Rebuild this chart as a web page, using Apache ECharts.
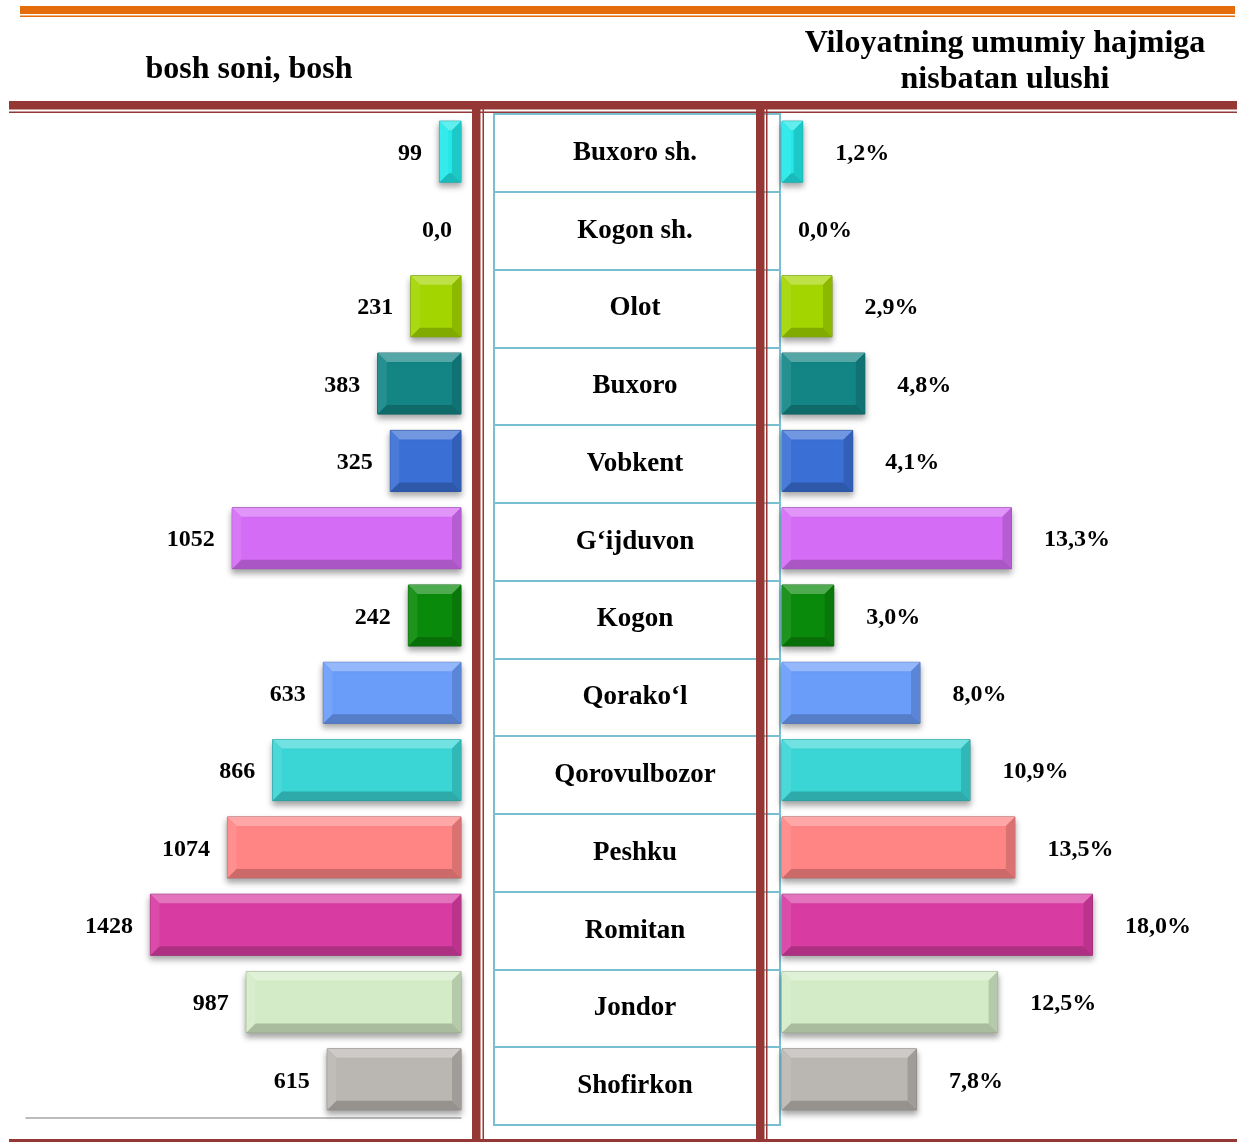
<!DOCTYPE html>
<html>
<head>
<meta charset="utf-8">
<title>Bosh soni</title>
<script src="https://cdn.jsdelivr.net/npm/echarts@6/dist/echarts.min.js"></script>
<style>
  html, body { margin: 0; padding: 0; background: #fff; }
  #chart { width: 1237px; height: 1142px; }
</style>
</head>
<body>
<div id="chart"></div>
<script>
// tumanlar (kategoriyalar)
const districts = ['Buxoro sh.', 'Kogon sh.', 'Olot', 'Buxoro', 'Vobkent', 'G‘ijduvon', 'Kogon',
  'Qorako‘l', 'Qorovulbozor', 'Peshku', 'Romitan', 'Jondor', 'Shofirkon'];
// bosh soni
const headCounts = [99, 0, 231, 383, 325, 1052, 242, 633, 866, 1074, 1428, 987, 615];
// viloyat umumiy hajmidagi ulushi, %
const shares = [1.2, 0.0, 2.9, 4.8, 4.1, 13.3, 3.0, 8.0, 10.9, 13.5, 18.0, 12.5, 7.8];

const barColors = ['#22E8E8', '#999999', '#A3D600', '#138585', '#3A6FD6', '#D56CF5', '#0A8A0A',
  '#6A9CFA', '#3AD5D5', '#FF8585', '#D83CA3', '#D3EBC6', '#BAB6B2'];

const SERIF = '"Liberation Serif", "Times New Roman", serif';
const RED = '#953735';
const ORANGE = '#E46C0A';
const CYAN = '#78BFD2';

function mix(hex, target, t) {
  const a = parseInt(hex.slice(1), 16), b = parseInt(target.slice(1), 16);
  const ch = s => {
    const x = (a >> s) & 255, y = (b >> s) & 255;
    return Math.round(x + (y - x) * t);
  };
  return 'rgb(' + ch(16) + ',' + ch(8) + ',' + ch(0) + ')';
}

// bo'rtma (bevel) ustunlar
function bevelBar(side, fmt, dist) {
  return function (params, api) {
    const v = api.value(0);
    const cat = api.value(1);
    const p0 = api.coord([0, cat]);
    const p1 = api.coord([v, cat]);
    const h = 61;
    const x0 = Math.min(p0[0], p1[0]);
    const x1 = Math.max(p0[0], p1[0]);
    const y0 = p0[1] - h / 2;
    const y1 = p0[1] + h / 2;
    const w = x1 - x0;
    const base = barColors[params.dataIndex];
    const label = {
      type: 'text',
      style: { text: fmt(v), fill: '#000', fontSize: 24, fontWeight: 'bold', fontFamily: SERIF }
    };
    if (v === 0) {
      return {
        type: 'rect',
        shape: { x: x0, y: y0, width: 0, height: h },
        style: { fill: 'none' },
        textContent: label,
        textConfig: { position: side, distance: side === 'left' ? 9 : 16, offset: [0, 2] }
      };
    }
    const b = Math.min(9, w / 2, h / 2);
    return {
      type: 'group',
      children: [
        {
          type: 'rect',
          shape: { x: x0, y: y0, width: w, height: h },
          style: {
            fill: base,
            stroke: mix(base, '#000000', 0.3),
            lineWidth: 1,
            shadowBlur: 6,
            shadowOffsetY: 4,
            shadowColor: 'rgba(0,0,0,0.35)'
          },
          textContent: label,
          textConfig: { position: side, distance: dist, offset: [0, 2] }
        },
        {
          type: 'polygon',
          shape: { points: [[x0, y0], [x1, y0], [x1 - b, y0 + b], [x0 + b, y0 + b]] },
          style: { fill: mix(base, '#FFFFFF', 0.28) }
        },
        {
          type: 'polygon',
          shape: { points: [[x0, y1], [x1, y1], [x1 - b, y1 - b], [x0 + b, y1 - b]] },
          style: { fill: mix(base, '#000000', 0.2) }
        },
        {
          type: 'polygon',
          shape: { points: [[x0, y0], [x0 + b, y0 + b], [x0 + b, y1 - b], [x0, y1]] },
          style: { fill: mix(base, '#FFFFFF', 0.08) }
        },
        {
          type: 'polygon',
          shape: { points: [[x1, y0], [x1 - b, y0 + b], [x1 - b, y1 - b], [x1, y1]] },
          style: { fill: mix(base, '#000000', 0.14) }
        }
      ]
    };
  };
}

const myChart = echarts.init(document.getElementById('chart'), null, { renderer: 'canvas' });

const option = {
  backgroundColor: '#fff',
  animation: false,
  grid: [
    { left: 26, right: 776, top: 113, bottom: 24 },   // bosh soni
    { left: 782, right: 110, top: 113, bottom: 24 },  // ulush
    { left: 494, right: 457, top: 114, bottom: 17, show: true, borderColor: CYAN, borderWidth: 2 } // jadval
  ],
  xAxis: [
    {
      gridIndex: 0, type: 'value', inverse: true, min: 0, max: 2000,
      axisLine: { show: true, lineStyle: { color: '#A6A6A6', width: 1.5 } },
      axisTick: { show: false }, axisLabel: { show: false }, splitLine: { show: false }
    },
    { gridIndex: 1, type: 'value', min: 0, max: 20, show: false },
    { gridIndex: 2, type: 'value', min: 0, max: 1, show: false }
  ],
  yAxis: [
    { gridIndex: 0, type: 'category', inverse: true, data: districts, show: false },
    { gridIndex: 1, type: 'category', inverse: true, data: districts, show: false },
    {
      gridIndex: 2, type: 'category', inverse: true, data: districts,
      axisLine: { show: true, lineStyle: { color: CYAN, width: 2 } },
      axisTick: { show: false },
      splitLine: { show: true, lineStyle: { color: CYAN, width: 2 } },
      axisLabel: {
        margin: -141, align: 'center', color: '#000', padding: [12, 0, 0, 0],
        fontSize: 27, fontWeight: 'bold', fontFamily: SERIF
      }
    }
  ],
  series: [
    {
      name: 'bosh soni',
      type: 'custom',
      xAxisIndex: 0, yAxisIndex: 0,
      renderItem: bevelBar('left', v => (v === 0 ? '0,0' : String(v)), 17),
      encode: { x: 0, y: 1 },
      data: headCounts.map((v, i) => [v, i])
    },
    {
      name: 'ulushi',
      type: 'custom',
      xAxisIndex: 1, yAxisIndex: 1,
      renderItem: bevelBar('right', v => v.toFixed(1).replace('.', ',') + '%', 32),
      encode: { x: 0, y: 1 },
      data: shares.map((v, i) => [v, i])
    }
  ],
  graphic: [
    // yuqori to'q sariq chiziqlar
    { type: 'rect', z: 100, shape: { x: 20, y: 6, width: 1215, height: 8 }, style: { fill: ORANGE } },
    { type: 'rect', z: 100, shape: { x: 20, y: 15.5, width: 1215, height: 1.5 }, style: { fill: ORANGE } },
    // sarlavhalar
    {
      type: 'text', z: 100, x: 249, y: 70,
      style: { text: 'bosh soni, bosh', fill: '#000', font: 'bold 32px ' + SERIF, align: 'center', verticalAlign: 'middle' }
    },
    {
      type: 'text', z: 100, x: 1005, y: 62,
      style: {
        text: 'Viloyatning umumiy hajmiga\nnisbatan ulushi', fill: '#000', font: 'bold 32px ' + SERIF,
        align: 'center', verticalAlign: 'middle', lineHeight: 36
      }
    },
    // qizil gorizontal chiziqlar
    { type: 'rect', z: 100, shape: { x: 9, y: 101, width: 1228, height: 8.5 }, style: { fill: RED } },
    { type: 'rect', z: 100, shape: { x: 9, y: 111.5, width: 1228, height: 1.5 }, style: { fill: RED } },
    { type: 'rect', z: 100, shape: { x: 9, y: 1139, width: 1228, height: 3 }, style: { fill: RED } },
    // qizil vertikal chiziqlar
    { type: 'rect', z: 100, shape: { x: 472, y: 109, width: 8.5, height: 1033 }, style: { fill: RED } },
    { type: 'rect', z: 100, shape: { x: 482.5, y: 109, width: 1.5, height: 1033 }, style: { fill: RED } },
    { type: 'rect', z: 100, shape: { x: 756, y: 109, width: 8.5, height: 1033 }, style: { fill: RED } },
    { type: 'rect', z: 100, shape: { x: 766, y: 109, width: 1.5, height: 1033 }, style: { fill: RED } }
  ]
};

myChart.setOption(option);
window.addEventListener('resize', function () {
  myChart.resize();
});
</script>
</body>
</html>
